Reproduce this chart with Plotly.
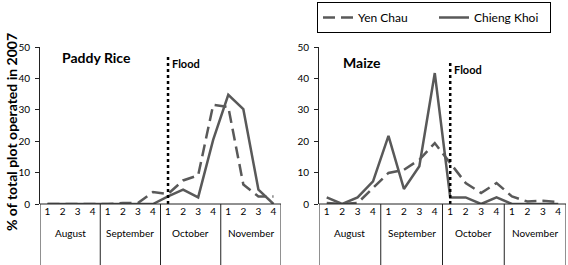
import plotly.graph_objects as go

months = ["August", "September", "October", "November"]
weeks = ["1", "2", "3", "4"]

rice_yen_chau = [0, 0, 0, 0, 0, 0.3, 0.3, 3.8, 3.2, 7.5, 9.1, 31.6, 30.9, 6.2, 2.4, 2.4]
rice_chieng_khoi = [0, 0, 0, 0, 0, 0, 0, 0, 2.4, 4.6, 2.1, 20.5, 34.8, 30.2, 4.6, 0]
maize_yen_chau = [0.3, 0, 0.3, 5, 9.9, 10.9, 14.1, 19.4, 13, 6.7, 3.5, 6.7, 2.4, 0.8, 1, 0.6]
maize_chieng_khoi = [2.1, 0, 2.1, 7.2, 21.7, 4.8, 12, 41.7, 2.1, 2.1, 0, 2.1, 0, 0, 0, 0]

flood_week = 9  # October week 1
rice_flood_top = 47.5
maize_flood_top = 45.4

y_ticks = [0, 10, 20, 30, 40, 50]

FONT = "Lato"
LINE_COL = "#595959"
AX_COL = "#222222"

x_pos = list(range(1, len(months) * len(weeks) + 1))
week_labels = [w for m in months for w in weeks]

fig = go.Figure()

panels = [
    ("x", "y", rice_yen_chau, rice_chieng_khoi, rice_flood_top, True),
    ("x2", "y2", maize_yen_chau, maize_chieng_khoi, maize_flood_top, False),
]
for xa, ya, yc, ck, ftop, show in panels:
    fig.add_trace(go.Scatter(x=x_pos, y=yc, xaxis=xa, yaxis=ya, mode="lines",
                             name="Yen Chau", showlegend=show,
                             line=dict(color=LINE_COL, width=2.5, dash="12px,6px")))
    fig.add_trace(go.Scatter(x=x_pos, y=ck, xaxis=xa, yaxis=ya, mode="lines",
                             name="Chieng Khoi", showlegend=show,
                             line=dict(color=LINE_COL, width=2.5)))
    fig.add_trace(go.Scatter(x=[flood_week, flood_week], y=[0, ftop], xaxis=xa, yaxis=ya,
                             mode="lines", showlegend=False, hoverinfo="skip",
                             line=dict(color="black", width=2.5, dash="dot")))

W, H = 568, 265
top_px, bot_px = 47, 204
doms = [(40 / W, 281 / W), (319 / W, 566 / W)]

axis_common = dict(range=[0.5, 16.5], tickvals=x_pos, ticktext=week_labels,
                   showgrid=False, zeroline=False, showline=False, ticks="",
                   tickfont=dict(family=FONT, size=10, color="black"), fixedrange=True)
yaxis_common = dict(range=[0, 50], tickvals=y_ticks, showgrid=False, zeroline=False,
                    showline=True, linecolor=AX_COL, linewidth=1, ticks="outside",
                    ticklen=4, tickcolor=AX_COL, ticklabelstandoff=3,
                    tickfont=dict(family=FONT, size=10, color="black"), fixedrange=True)

fig.update_layout(
    width=W, height=H,
    margin=dict(l=0, r=0, t=top_px, b=H - bot_px, pad=0),
    paper_bgcolor="white", plot_bgcolor="white",
    font=dict(family=FONT, color="black"),
    xaxis=dict(domain=list(doms[0]), anchor="y", **axis_common),
    xaxis2=dict(domain=list(doms[1]), anchor="y2", **axis_common),
    yaxis=dict(anchor="x", **yaxis_common),
    yaxis2=dict(anchor="x2", **yaxis_common),
    showlegend=True,
    legend=dict(orientation="h", x=317 / W, y=(bot_px - 2) / (bot_px - top_px),
                xanchor="left", yanchor="top", bordercolor="black", borderwidth=1,
                font=dict(family=FONT, size=12, color="black"), entrywidth=71,
                bgcolor="white", tracegroupgap=0),
)

shapes = []
annotations = []
span = bot_px - top_px
for i, (xa, ya) in enumerate([("x", "y"), ("x2", "y2")]):
    shapes.append(dict(type="line", xref=xa, yref="paper", x0=0.5, x1=16.5, y0=0, y1=0,
                       line=dict(color=AX_COL, width=1)))
    for k in range(len(months) + 1):
        xb = 0.5 + k * len(weeks)
        shapes.append(dict(type="line", xref=xa, yref="paper", x0=xb, x1=xb,
                           y0=0, y1=-(H - bot_px + 5) / span,
                           line=dict(color=AX_COL, width=1)))
    for k, m in enumerate(months):
        annotations.append(dict(x=2.5 + k * len(weeks), y=-(233 - bot_px) / span,
                                xref=xa, yref="paper", text=m, showarrow=False,
                                xanchor="center", yanchor="middle",
                                font=dict(family=FONT, size=10, color="black")))

annotations.append(dict(x=flood_week, y=rice_flood_top, xref="x", yref="y", text="<b>Flood</b>",
                        showarrow=False, xanchor="left", yanchor="top", xshift=2,
                        font=dict(family=FONT, size=11, color="black")))
annotations.append(dict(x=flood_week, y=maize_flood_top, xref="x2", yref="y2", text="<b>Flood</b>",
                        showarrow=False, xanchor="left", yanchor="top", xshift=2,
                        font=dict(family=FONT, size=11, color="black")))
annotations.append(dict(x=60 / W, y=(bot_px - 57) / span, xref="paper", yref="paper",
                        text="<b>Paddy Rice</b>", showarrow=False, xanchor="left", yanchor="middle",
                        font=dict(family=FONT, size=14, color="black")))
annotations.append(dict(x=341 / W, y=(bot_px - 62) / span, xref="paper", yref="paper",
                        text="<b>Maize</b>", showarrow=False, xanchor="left", yanchor="middle",
                        font=dict(family=FONT, size=14, color="black")))
annotations.append(dict(x=11 / W, y=(bot_px - 132) / span, xref="paper", yref="paper",
                        text="<b>% of total plot operated in 2007</b>", textangle=-90,
                        showarrow=False, xanchor="center", yanchor="middle",
                        font=dict(family=FONT, size=14, color="black")))

fig.update_layout(shapes=shapes, annotations=annotations)
fig.write_html("out.html", config={"displayModeBar": False},
               post_script="document.body.style.margin='0';document.body.style.overflow='hidden';")
